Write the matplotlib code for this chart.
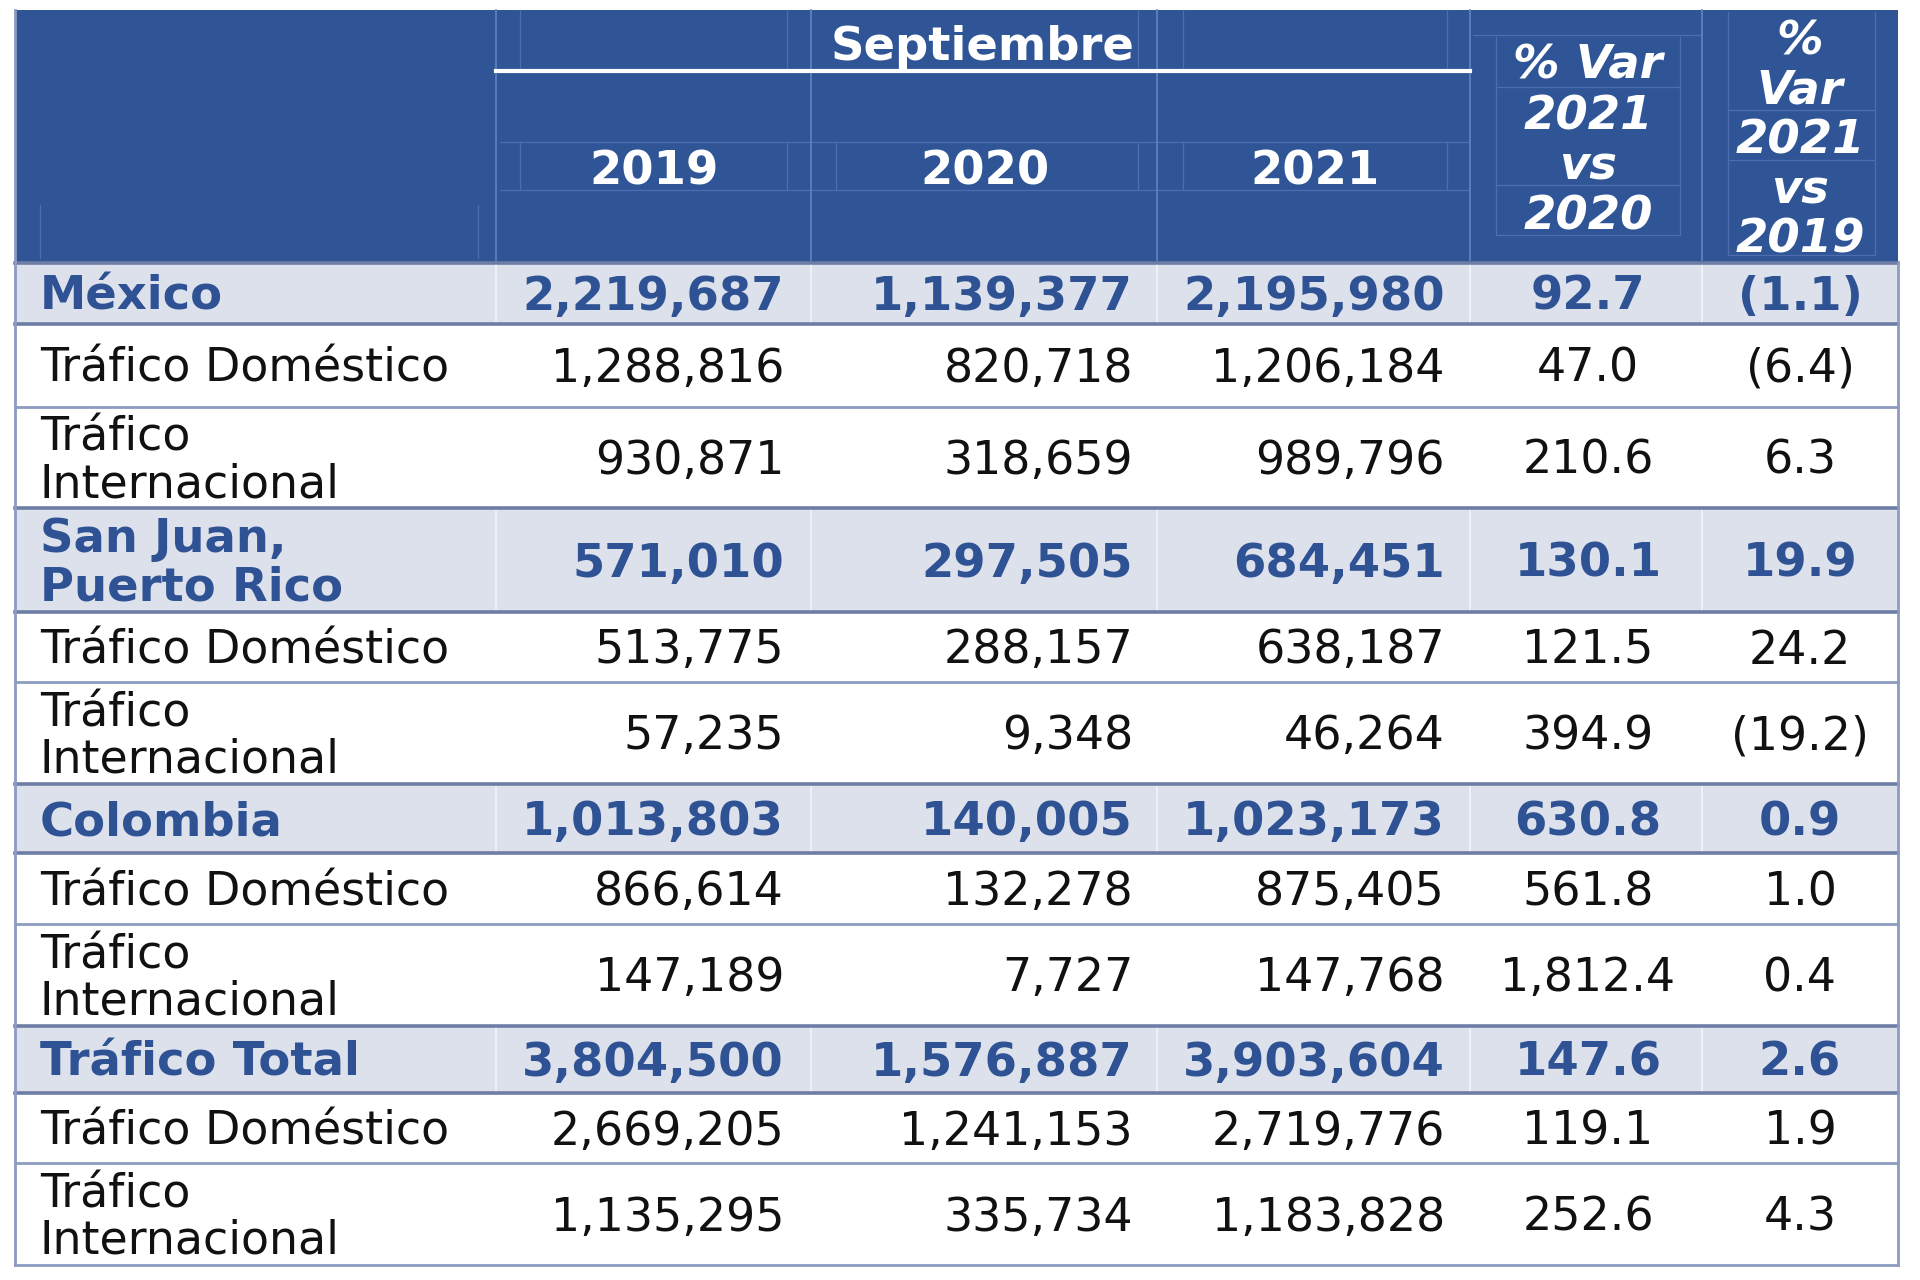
import matplotlib.pyplot as plt
from matplotlib.patches import Rectangle

# table data
labels = ['México', 'Tráfico Doméstico', 'Tráfico\nInternacional',
          'San Juan,\nPuerto Rico', 'Tráfico Doméstico', 'Tráfico\nInternacional',
          'Colombia', 'Tráfico Doméstico', 'Tráfico\nInternacional',
          'Tráfico Total', 'Tráfico Doméstico', 'Tráfico\nInternacional']
is_group = [True, False, False, True, False, False,
            True, False, False, True, False, False]
v2019 = ['2,219,687', '1,288,816', '930,871', '571,010', '513,775', '57,235',
         '1,013,803', '866,614', '147,189', '3,804,500', '2,669,205', '1,135,295']
v2020 = ['1,139,377', '820,718', '318,659', '297,505', '288,157', '9,348',
         '140,005', '132,278', '7,727', '1,576,887', '1,241,153', '335,734']
v2021 = ['2,195,980', '1,206,184', '989,796', '684,451', '638,187', '46,264',
         '1,023,173', '875,405', '147,768', '3,903,604', '2,719,776', '1,183,828']
var_20 = ['92.7', '47.0', '210.6', '130.1', '121.5', '394.9',
          '630.8', '561.8', '1,812.4', '147.6', '119.1', '252.6']
var_19 = ['(1.1)', '(6.4)', '6.3', '19.9', '24.2', '(19.2)',
          '0.9', '1.0', '0.4', '2.6', '1.9', '4.3']

years = ['2019', '2020', '2021']
month = 'Septiembre'

# layout (pixels)
col_x = [15, 496, 811, 1157, 1470, 1702, 1898]
row_y = [263, 324, 407, 508, 612, 682, 784, 853, 924, 1026, 1093, 1163, 1265]
head_top, head_bot = 10, 260

BLUE = '#2F5597'
GROUP_BG = '#DCE1EB'
GROUP_TX = '#2E5294'
LINE = '#8D9BC0'
FAINT = '#4D6DAE'
FS = 33
FSB = 33.5
DY = 4  # optical shift for va='center'

fig = plt.figure(figsize=(19.2, 12.8), dpi=100)
ax = fig.add_axes([0, 0, 1, 1])
ax.set_xlim(0, 1920)
ax.set_ylim(1280, 0)
ax.axis('off')

# header block
ax.add_patch(Rectangle((col_x[0], head_top), col_x[-1] - col_x[0], row_y[0] - head_top,
                       facecolor=BLUE, edgecolor='none'))

# faint grid lines inside the header
faint_h = [(1473, 1702, 35), (1496, 1680, 87), (1496, 1680, 185), (1496, 1680, 235),
           (1728, 1875, 110), (1728, 1875, 160), (1728, 1875, 255),
           (500, 1470, 142), (500, 1470, 190)]
faint_v = [(520, 10, 70), (787, 10, 70), (836, 142, 190), (1138, 10, 70), (1183, 10, 70),
           (1447, 10, 70), (1496, 37, 235), (1680, 37, 235), (1728, 12, 255),
           (1875, 12, 255), (40, 205, 258), (478, 205, 258), (520, 142, 190),
           (787, 142, 190), (1138, 142, 190), (1183, 142, 190), (1447, 142, 190)]
for x0, x1, y in faint_h:
    ax.plot([x0, x1], [y, y], color=FAINT, lw=0.9)
for x, y0, y1 in faint_v:
    ax.plot([x, x], [y0, y1], color=FAINT, lw=0.9)
for x in col_x[1:-1]:
    ax.plot([x, x], [head_top, head_bot], color='#6683BD', lw=1.2)

# white rule under the month title
ax.plot([col_x[1], col_x[4]], [71, 71], color='white', lw=3)

ax.text((col_x[1] + col_x[4]) / 2, 43 + DY, month, color='white', fontsize=FSB,
        fontweight='bold', ha='center', va='center')
for i, yr in enumerate(years):
    ax.text((col_x[i + 1] + col_x[i + 2]) / 2 + 1, 168 + DY, yr, color='white',
            fontsize=FSB, fontweight='bold', ha='center', va='center')

head_var20 = ['% Var', '2021', 'vs', '2020']
for k, t in enumerate(head_var20):
    ax.text(1588, 62 + DY + k * 50.5, t, color='white', fontsize=FSB,
            fontweight='bold', fontstyle='italic', ha='center', va='center')
head_var19 = ['%', 'Var', '2021', 'vs', '2019']
for k, t in enumerate(head_var19):
    ax.text(1800, 38 + DY + k * 49.5, t, color='white', fontsize=FSB,
            fontweight='bold', fontstyle='italic', ha='center', va='center')

# body rows
cols = [v2019, v2020, v2021]
right_edges = [784, 1133, 1445]
for r, lab in enumerate(labels):
    y0, y1 = row_y[r], row_y[r + 1]
    yc = (y0 + y1) / 2 + DY
    grp = is_group[r]
    if grp:
        ax.add_patch(Rectangle((col_x[0], y0), col_x[-1] - col_x[0], y1 - y0,
                               facecolor=GROUP_BG, edgecolor='none'))
        for x in col_x[1:-1]:
            ax.plot([x, x], [y0, y1], color='#EEF1F6', lw=1.5)
    color = GROUP_TX if grp else '#111111'
    weight = 'bold' if grp else 'normal'
    fs = FSB if grp else FS
    ax.text(40, yc, lab, color=color, fontsize=fs, fontweight=weight,
            ha='left', va='center', linespacing=1.1 if grp else 1.05)
    for c, vals in enumerate(cols):
        ax.text(right_edges[c], yc, vals[r], color=color, fontsize=fs,
                fontweight=weight, ha='right', va='center')
    ax.text(1588, yc, var_20[r], color=color, fontsize=fs, fontweight=weight,
            ha='center', va='center')
    ax.text(1800, yc, var_19[r], color=color, fontsize=fs, fontweight=weight,
            ha='center', va='center')

# row separators
for r, y in enumerate(row_y):
    dark = (r < len(is_group) and is_group[r]) or (r > 0 and is_group[r - 1])
    ax.plot([col_x[0], col_x[-1]], [y, y], color='#6E7DA5' if dark else LINE,
            lw=2.6 if dark else 2.0)

# outer border of the body
ax.plot([col_x[0], col_x[0]], [head_top, row_y[-1]], color=LINE, lw=2)
ax.plot([col_x[-1], col_x[-1]], [row_y[0], row_y[-1]], color=LINE, lw=2)

fig.savefig('out.png', dpi=100, facecolor='white')
